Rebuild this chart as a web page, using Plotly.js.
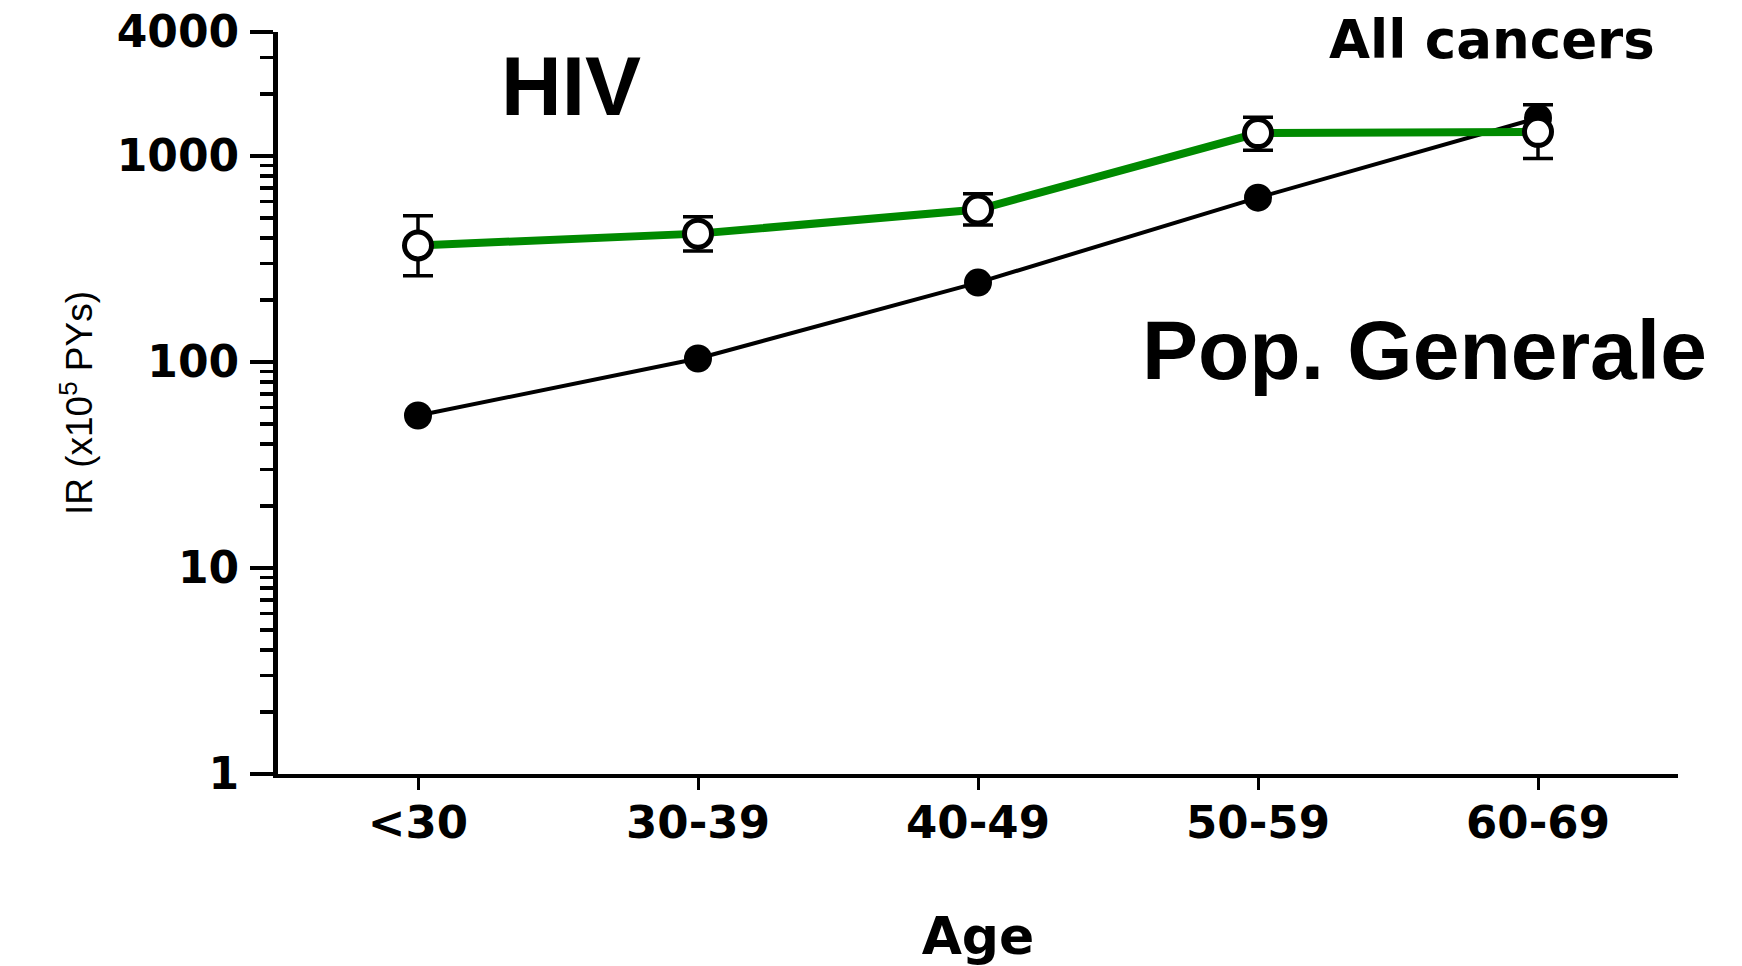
<!DOCTYPE html>
<html>
<head>
<meta charset="utf-8">
<script src="https://cdn.plot.ly/plotly-3.0.1.min.js"></script>
<style>
  html, body { margin: 0; padding: 0; background: #ffffff; }
  #chart { width: 1742px; height: 966px; }
</style>
</head>
<body>
<div id="chart"></div>
<script>
// ---- Data ----
const ageGroups = ['<30', '30-39', '40-49', '50-59', '60-69'];
const generalPopIR = [55, 104, 243, 628, 1530];
const hivIR = [368, 420, 550, 1292, 1310];
const hivUpper = [513, 507, 655, 1542, 1775];
const hivLower = [262, 346, 462, 1068, 972];
const yTickVals = [1, 10, 100, 1000, 4000];
const yTickText = ['1', '10', '100', '1000', '4000'];
const yMinorVals = [2,3,4,5,6,7,8,9,20,30,40,50,60,70,80,90,200,300,400,500,600,700,800,900,2000,3000];

const hivErrPlus = hivUpper.map((u, i) => u - hivIR[i]);
const hivErrMinus = hivLower.map((l, i) => hivIR[i] - l);

const traceGen = {
  type: 'scatter',
  mode: 'lines+markers',
  name: 'Pop. Generale',
  x: ageGroups,
  y: generalPopIR,
  line: { color: '#000000', width: 4 },
  marker: { symbol: 'circle', size: 28, color: '#000000', line: { color: '#000000', width: 0 } },
  cliponaxis: false,
  showlegend: false
};

const traceHiv = {
  type: 'scatter',
  mode: 'lines+markers',
  name: 'HIV',
  x: ageGroups,
  y: hivIR,
  line: { color: '#008a00', width: 8 },
  marker: { symbol: 'circle', size: 27, color: '#ffffff', line: { color: '#000000', width: 5 } },
  error_y: {
    type: 'data', symmetric: false,
    array: hivErrPlus, arrayminus: hivErrMinus,
    color: '#000000', thickness: 3.5, width: 15
  },
  cliponaxis: false,
  showlegend: false
};

const W = 1742, H = 966;
const mL = 278, mR = 64, mT = 32, mB = 192;
const plotW = W - mL - mR, plotH = H - mT - mB;
const px = v => (v - mL) / plotW;
const py = v => (H - mB - v) / plotH;

const layout = {
  width: W, height: H,
  margin: { l: mL, r: mR, t: mT, b: mB, pad: 0 },
  paper_bgcolor: '#ffffff',
  plot_bgcolor: '#ffffff',
  showlegend: false,
  xaxis: {
    type: 'category',
    range: [-0.5, 4.5],
    showline: true, linecolor: '#000000', linewidth: 4,
    showgrid: false, zeroline: false,
    ticks: 'outside', ticklen: 12, tickwidth: 3, tickcolor: '#000000',
    ticklabelstandoff: -6,
    tickfont: { family: 'DejaVu Sans', size: 45, color: '#000000', weight: 'bold' },
    title: { text: 'Age', standoff: 80,
             font: { family: 'DejaVu Sans', size: 52, color: '#000000', weight: 'bold' } }
  },
  yaxis: {
    type: 'log',
    range: [0, Math.log10(4000)],
    showline: true, linecolor: '#000000', linewidth: 5,
    showgrid: false, zeroline: false,
    tickmode: 'array', tickvals: yTickVals, ticktext: yTickText,
    ticks: 'outside', ticklen: 23, tickwidth: 3.5, tickcolor: '#000000',
    ticklabelstandoff: 2,
    tickfont: { family: 'DejaVu Sans', size: 44, color: '#000000', weight: 'bold' },
    minor: { tickmode: 'array', tickvals: yMinorVals, ticks: 'outside', ticklen: 13, tickwidth: 3.5, tickcolor: '#000000', showgrid: false },
    title: { text: 'IR (x10<sup>5</sup> PYs)', standoff: 14,
             font: { family: 'Liberation Sans, Arial', size: 37, color: '#000000' } }
  },
  annotations: [
    { text: 'HIV', xref: 'paper', yref: 'paper', x: px(571), y: py(86), xanchor: 'center', yanchor: 'middle',
      showarrow: false, font: { family: 'Liberation Sans, Arial', size: 84, color: '#000000', weight: 'bold' } },
    { text: 'Pop. Generale', xref: 'paper', yref: 'paper', x: px(1424), y: py(350), xanchor: 'center', yanchor: 'middle',
      showarrow: false, font: { family: 'Liberation Sans, Arial', size: 84, color: '#000000', weight: 'bold' } },
    { text: 'All cancers', xref: 'paper', yref: 'paper', x: px(1492), y: py(40), xanchor: 'center', yanchor: 'middle',
      showarrow: false, font: { family: 'DejaVu Sans', size: 53, color: '#000000', weight: 'bold' } }
  ]
};

Plotly.newPlot('chart', [traceGen, traceHiv], layout, { displayModeBar: false, staticPlot: true });
</script>
</body>
</html>
